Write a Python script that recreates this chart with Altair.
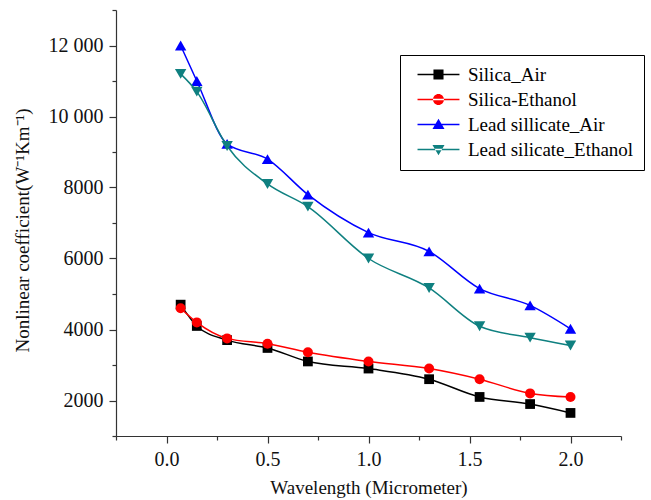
import altair as alt
import pandas as pd

# ---- data ----
wavelength = [0.07, 0.15, 0.3, 0.5, 0.7, 1.0, 1.3, 1.55, 1.8, 2.0]
silica_air = [4700, 4100, 3700, 3480, 3100, 2900, 2600, 2100, 1900, 1650]
silica_ethanol = [4600, 4200, 3750, 3600, 3360, 3100, 2900, 2600, 2200, 2100]
lead_air = [12000, 11000, 9230, 8800, 7800, 6730, 6200, 5150, 4680, 4020]
lead_ethanol = [11200, 10700, 9170, 8100, 7460, 6000, 5170, 4090, 3770, 3550]

series_names = ["Silica_Air", "Silica-Ethanol", "Lead sillicate_Air", "Lead silicate_Ethanol"]
series_values = [silica_air, silica_ethanol, lead_air, lead_ethanol]
colors = ["#000000", "#ff0000", "#0000ff", "#0f8080"]
shapes = ["square", "circle", "triangle-up", "triangle-down"]
sizes = [95, 100, 130, 130]

x_major = [0.0, 0.5, 1.0, 1.5, 2.0]
x_minor = [-0.25, 0.25, 0.75, 1.25, 1.75, 2.25]
y_major = [2000, 4000, 6000, 8000, 10000, 12000]
y_minor = [1000, 3000, 5000, 7000, 9000, 11000, 13000]

rows = []
for name, vals in zip(series_names, series_values):
    for w, v in zip(wavelength, vals):
        rows.append({"series": name, "wavelength": w, "value": v})
df = pd.DataFrame(rows)

# legend symbols: line segment + marker drawn as custom paths
line_part = "M-0.22,-0.085H4.44V0.085H-0.22Z"
legend_paths = [
    line_part + "M1.55,-0.56H2.67V0.56H1.55Z",
    line_part + "M1.5,0A0.61,0.61 0 1,0 2.72,0A0.61,0.61 0 1,0 1.5,0Z",
    line_part + "M2.11,-0.65L2.78,0.5L1.44,0.5Z",
    line_part + "M2.11,0.65L2.78,-0.5L1.44,-0.5Z",
]

xscale = alt.Scale(domain=[-0.25, 2.25], nice=False, zero=False)
yscale = alt.Scale(domain=[1000, 13000], nice=False, zero=False)
color_scale = alt.Scale(domain=series_names, range=colors)

x_axis = alt.Axis(
    orient="bottom", values=x_major, format=".1f", title="Wavelength (Micrometer)",
    tickSize=7, labelPadding=6, grid=False, labelFontSize=20, titleFontSize=19,
    titleY=51, titleBaseline="middle",
)
y_axis = alt.Axis(
    orient="left", values=y_major,
    labelExpr="datum.value >= 10000 ? replace(format(datum.value, ','), ',', ' ') : format(datum.value, 'd')",
    title="Nonlinear coefficient(W⁻¹Km⁻¹)",
    tickSize=7, labelPadding=6, grid=False, labelFontSize=20, titleFontSize=19,
    titleX=-94, titleY=220, titleBaseline="middle",
)

# axis carrier (invisible)
axes_layer = alt.Chart(df).mark_point(opacity=0).encode(
    x=alt.X("wavelength:Q", scale=xscale, axis=x_axis),
    y=alt.Y("value:Q", scale=yscale, axis=y_axis),
)

minor = alt.Chart(df).mark_point(opacity=0).encode(
    x=alt.X("wavelength:Q", scale=xscale,
            axis=alt.Axis(orient="bottom", values=x_minor, labels=False, domain=False,
                          tickSize=4, title=None, grid=False)),
    y=alt.Y("value:Q", scale=yscale,
            axis=alt.Axis(orient="left", values=y_minor, labels=False, domain=False,
                          tickSize=4, title=None, grid=False)),
)

series_layers = []
for name, shp, col, sz in zip(series_names, shapes, colors, sizes):
    base = alt.Chart(df).transform_filter(alt.datum.series == name)
    enc = dict(
        x=alt.X("wavelength:Q", scale=xscale, axis=None),
        y=alt.Y("value:Q", scale=yscale, axis=None),
    )
    series_layers.append(
        base.mark_line(interpolate="monotone", strokeWidth=1.5, color=col).encode(**enc)
    )
    series_layers.append(
        base.mark_point(shape=shp, filled=True, color=col, size=sz, opacity=1).encode(**enc)
    )

legend_props = dict(
    orient="none", legendX=284, legendY=45, title=None,
    strokeColor="black", padding=10,
    labelFontSize=19, labelColor="#000", labelLimit=300,
    symbolSize=324, symbolStrokeWidth=0,
    symbolOpacity=1, labelOffset=39, rowPadding=5,
)
legend_layer = alt.Chart(df).mark_point(filled=True, opacity=0).encode(
    x=alt.X("wavelength:Q", scale=xscale, axis=None),
    y=alt.Y("value:Q", scale=yscale, axis=None),
    color=alt.Color("series:N", scale=color_scale, legend=alt.Legend(**legend_props)),
    shape=alt.Shape("series:N", scale=alt.Scale(domain=series_names, range=legend_paths),
                    legend=alt.Legend(**legend_props)),
)

chart = (
    alt.layer(axes_layer, minor, *series_layers, legend_layer)
    .resolve_axis(x="independent", y="independent")
    .properties(
        width=505, height=426,
        autosize=alt.AutoSizeParams(type="none"),
        padding={"left": 116, "top": 10, "right": 30, "bottom": 64},
    )
    .configure(font="Liberation Serif")
    .configure_view(stroke=None)
    .configure_axis(domainColor="#333", tickColor="#333", labelColor="#111",
                    titleColor="#111", titleFontWeight="normal", domainWidth=1.2, tickWidth=1.2)
    .configure_legend(strokeWidth=1)
)

chart.save("out.html", embed_options={"renderer": "svg", "actions": False})
